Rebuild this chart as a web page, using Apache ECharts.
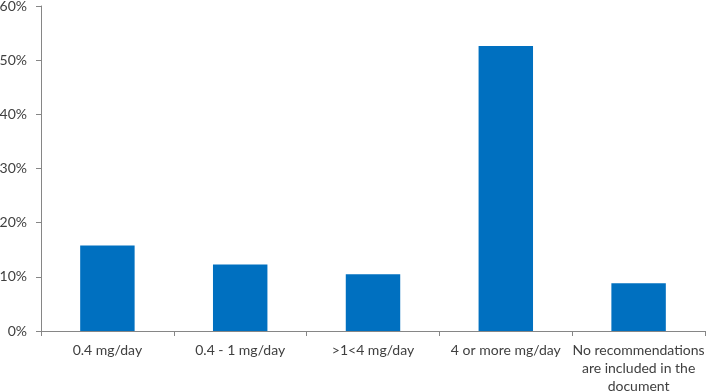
<!DOCTYPE html>
<html>
<head>
<meta charset="utf-8">
<script src="https://cdn.jsdelivr.net/npm/echarts@6/dist/echarts.min.js"></script>
<style>
  html, body { margin: 0; padding: 0; background: #fff; }
  #main { width: 709px; height: 392px; }
</style>
</head>
<body>
<div id="main"></div>
<script>
const categories = ['0.4 mg/day', '0.4 - 1 mg/day', '>1<4 mg/day', '4 or more mg/day', 'No recommendations\nare included in the\ndocument']
const shares = [15.8, 12.3, 10.5, 52.6, 8.8]

const chart = echarts.init(document.getElementById('main'))
const textColor = '#404040'
const axisColor = '#868686'

chart.setOption({
  animation: false,
  textStyle: { fontFamily: 'Lato' },
  grid: { left: 41, right: 4, top: 6, bottom: 61, outerBoundsMode: 'none' },
  xAxis: {
    type: 'category',
    data: categories,
    axisLine: { lineStyle: { color: axisColor, width: 1 } },
    axisTick: { show: true, alignWithLabel: false, length: 5, lineStyle: { color: axisColor } },
    axisLabel: { color: textColor, fontSize: 14, margin: 10, interval: 0, lineHeight: 18 }
  },
  yAxis: {
    type: 'value',
    min: 0,
    max: 60,
    interval: 10,
    axisLine: { show: true, lineStyle: { color: axisColor, width: 1 } },
    axisTick: { show: true, length: 5, lineStyle: { color: axisColor } },
    splitLine: { show: false },
    axisLabel: { color: textColor, fontSize: 14, margin: 14, formatter: '{value}%' }
  },
  series: [{
    type: 'bar',
    data: shares,
    barCategoryGap: '59%',
    itemStyle: { color: '#0070C0' }
  }]
})
</script>
</body>
</html>
